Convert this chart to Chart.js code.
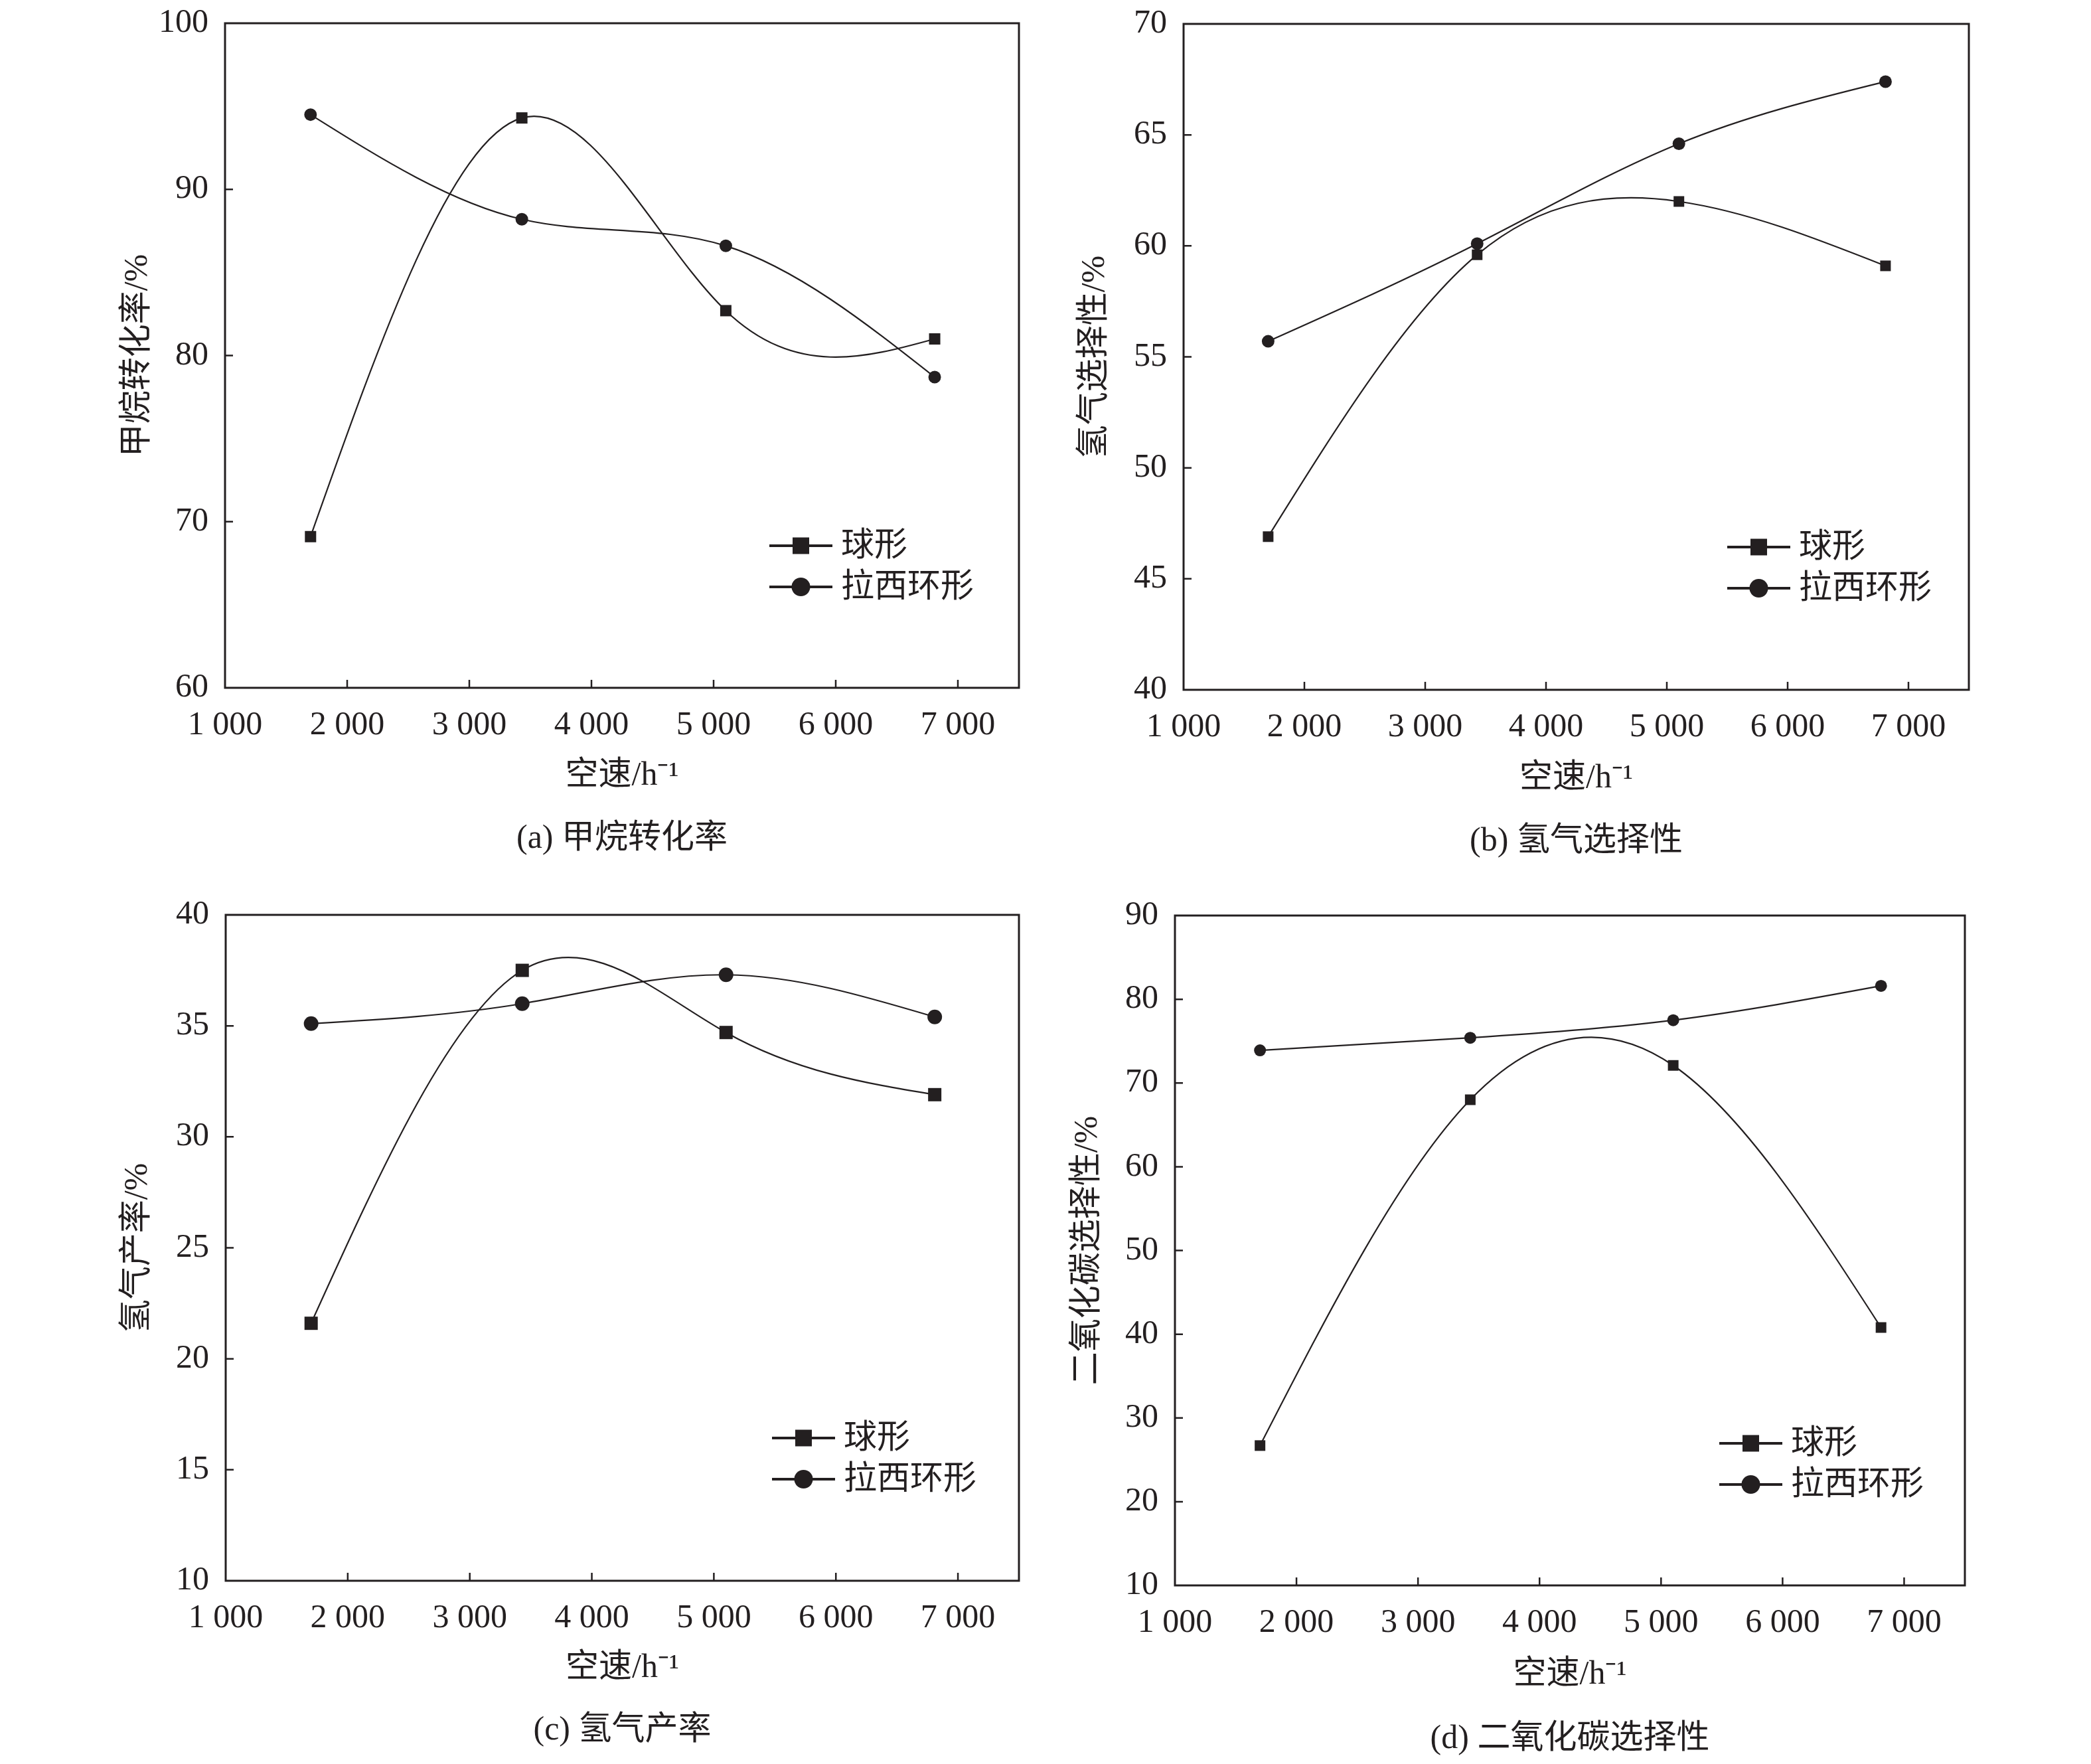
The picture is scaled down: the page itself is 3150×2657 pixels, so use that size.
<!DOCTYPE html>
<html>
<head>
<meta charset="utf-8">
<title>空速对催化性能的影响</title>
<script src="https://cdn.jsdelivr.net/npm/chart.js@4.4.1/dist/chart.umd.min.js"></script>
<style>
  body { margin: 0; background: #fff; }
  #wrap { position: relative; width: 3150px; height: 2657px; }
  canvas { position: absolute; }
</style>
</head>
<body>
<div id="wrap">
  <canvas id="chartA" width="1575" height="1328" style="left:0;top:0"></canvas>
  <canvas id="chartB" width="1575" height="1328" style="left:1575px;top:0"></canvas>
  <canvas id="chartC" width="1575" height="1329" style="left:0;top:1328px"></canvas>
  <canvas id="chartD" width="1575" height="1329" style="left:1575px;top:1328px"></canvas>
</div>
<script>
// space velocity (h^-1) of the four runs
const spaceVelocity = [1700, 3430, 5100, 6810];
const xTicks = [1000, 2000, 3000, 4000, 5000, 6000, 7000];
const seriesNames = ['球形', '拉西环形'];

// (a) methane conversion, %
const methaneSphere = [69.1, 94.3, 82.7, 81.0];
const methaneRaschig = [94.5, 88.2, 86.6, 78.7];
const yTicksA = [60, 70, 80, 90, 100];

// (b) hydrogen selectivity, %
const h2SelSphere = [46.9, 59.6, 62.0, 59.1];
const h2SelRaschig = [55.7, 60.1, 64.6, 67.4];
const yTicksB = [40, 45, 50, 55, 60, 65, 70];

// (c) hydrogen yield, %
const h2YieldSphere = [21.6, 37.5, 34.7, 31.9];
const h2YieldRaschig = [35.1, 36.0, 37.3, 35.4];
const yTicksC = [10, 15, 20, 25, 30, 35, 40];

// (d) CO2 selectivity, %
const co2SelSphere = [26.7, 68.0, 72.1, 40.8];
const co2SelRaschig = [73.9, 75.4, 77.5, 81.6];
const yTicksD = [10, 20, 30, 40, 50, 60, 70, 80, 90];

const ink = '#231f20';
const fontFamily = '"Liberation Serif", "Noto Sans CJK SC", serif';
const fontSize = 50;

function thousands(v) {
  return String(v).replace(/\B(?=(\d{3})+(?!\d))/g, ' ');
}

// replace chart.js bezier handles with natural cubic spline ones (like the origin plot)
const naturalSplinePlugin = {
  id: 'naturalSpline',
  beforeDatasetDraw(chart, args) {
    const meta = args.meta;
    const pts = meta.data;
    const n = pts.length;
    if (n < 3) return;
    const xs = pts.map(p => p.x);
    const ys = pts.map(p => p.y);
    const h = [];
    for (let i = 0; i < n - 1; i++) h.push(xs[i + 1] - xs[i]);
    const M = new Array(n).fill(0);
    const cp = [], dp = [];
    for (let i = 1; i < n - 1; i++) {
      const a = h[i - 1], b = 2 * (h[i - 1] + h[i]), c = h[i];
      const d = 6 * ((ys[i + 1] - ys[i]) / h[i] - (ys[i] - ys[i - 1]) / h[i - 1]);
      const m = b - (i > 1 ? a * cp[i - 1] : 0);
      cp[i] = c / m;
      dp[i] = (d - (i > 1 ? a * dp[i - 1] : 0)) / m;
    }
    for (let i = n - 2; i >= 1; i--) {
      M[i] = dp[i] - (i < n - 2 ? cp[i] * M[i + 1] : 0);
    }
    for (let i = 0; i < n - 1; i++) {
      const s = (ys[i + 1] - ys[i]) / h[i];
      const d0 = s - h[i] * (2 * M[i] + M[i + 1]) / 6;
      const d1 = s + h[i] * (M[i] + 2 * M[i + 1]) / 6;
      pts[i].cp2x = xs[i] + h[i] / 3;
      pts[i].cp2y = ys[i] + d0 * h[i] / 3;
      pts[i + 1].cp1x = xs[i + 1] - h[i] / 3;
      pts[i + 1].cp1y = ys[i + 1] - d1 * h[i] / 3;
    }
    pts[0].cp1x = xs[0]; pts[0].cp1y = ys[0];
    pts[n - 1].cp2x = xs[n - 1]; pts[n - 1].cp2y = ys[n - 1];
    meta.dataset._pointsUpdated = true;
  }
};

// box + inward tick marks
const framePlugin = {
  id: 'frame',
  beforeDatasetsDraw(chart) {
    const { ctx, chartArea: a, scales } = chart;
    ctx.save();
    ctx.strokeStyle = ink;
    ctx.lineWidth = 3;
    ctx.strokeRect(a.left, a.top, a.right - a.left, a.bottom - a.top);
    ctx.lineWidth = 2.5;
    ctx.beginPath();
    scales.x.ticks.forEach(t => {
      const px = scales.x.getPixelForValue(t.value);
      if (px > a.left + 3 && px < a.right - 3) {
        ctx.moveTo(px, a.bottom);
        ctx.lineTo(px, a.bottom - 12);
      }
    });
    scales.y.ticks.forEach(t => {
      const py = scales.y.getPixelForValue(t.value);
      if (py > a.top + 3 && py < a.bottom - 3) {
        ctx.moveTo(a.left, py);
        ctx.lineTo(a.left + 12, py);
      }
    });
    ctx.stroke();
    ctx.restore();
  }
};

// legend: short line with the marker on it, then the name
const lineLegendPlugin = {
  id: 'lineLegend',
  afterDatasetsDraw(chart, args, opts) {
    const { ctx, chartArea: a } = chart;
    const x0 = a.right + opts.dx;
    ctx.save();
    chart.data.datasets.forEach((ds, i) => {
      const y = a.top + opts.dy + i * 62;
      ctx.strokeStyle = ink;
      ctx.fillStyle = ink;
      ctx.lineWidth = 4;
      ctx.beginPath();
      ctx.moveTo(x0, y);
      ctx.lineTo(x0 + 95, y);
      ctx.stroke();
      ctx.beginPath();
      if (ds.pointStyle === 'rect') {
        ctx.rect(x0 + 47.5 - 12.5, y - 12.5, 25, 25);
      } else {
        ctx.arc(x0 + 47.5, y, 14, 0, Math.PI * 2);
      }
      ctx.fill();
      ctx.font = fontSize + 'px ' + fontFamily;
      ctx.textAlign = 'left';
      ctx.textBaseline = 'middle';
      ctx.fillText(ds.label, x0 + 108, y + 2);
    });
    ctx.restore();
  }
};

function makePanel(id, p) {
  const H = document.getElementById(id).height;
  const W = document.getElementById(id).width;
  const captionTop = p.bottom + p.captionOff - fontSize * 0.6;
  const captionPadBottom = H - captionTop - fontSize * 1.2;
  const xAxisHeight = captionTop - p.bottom;
  const xTitlePadBottom = xAxisHeight - p.xTitleOff - fontSize * 0.6;

  const mk = (vals) => spaceVelocity.map((x, i) => ({ x: x, y: vals[i] }));

  new Chart(document.getElementById(id), {
    type: 'line',
    data: {
      datasets: [{
        label: seriesNames[0],
        data: mk(p.sphere),
        borderColor: ink,
        backgroundColor: ink,
        borderWidth: 2.2,
        pointStyle: 'rect',
        pointRadius: p.sq / Math.SQRT2,
        pointBorderWidth: 0,
        tension: 0.4
      }, {
        label: seriesNames[1],
        data: mk(p.raschig),
        borderColor: ink,
        backgroundColor: ink,
        borderWidth: 2.2,
        pointStyle: 'circle',
        pointRadius: p.dot,
        pointBorderWidth: 0,
        tension: 0.4
      }]
    },
    options: {
      responsive: false,
      devicePixelRatio: 1,
      animation: false,
      events: [],
      layout: { padding: { left: 0, top: p.top, right: W - p.right, bottom: 0 } },
      scales: {
        x: {
          type: 'linear',
          min: 1000,
          max: 7500,
          grid: { display: false },
          border: { display: false },
          afterBuildTicks: s => { s.ticks = xTicks.map(v => ({ value: v })); },
          afterFit: s => { s.height = xAxisHeight; s.paddingLeft = 0; s.paddingRight = 0; },
          ticks: {
            color: ink,
            padding: 19,
            maxRotation: 0,
            autoSkip: false,
            font: { family: fontFamily, size: fontSize },
            callback: v => thousands(v)
          },
          title: {
            display: true,
            text: '空速/h⁻¹',
            color: ink,
            font: { family: fontFamily, size: fontSize, lineHeight: 1.2 },
            padding: { top: 0, bottom: xTitlePadBottom }
          }
        },
        y: {
          min: p.yTicks[0],
          max: p.yTicks[p.yTicks.length - 1],
          grid: { display: false },
          border: { display: false },
          afterBuildTicks: s => { s.ticks = p.yTicks.map(v => ({ value: v })); },
          afterFit: s => { s.width = p.left; s.paddingTop = 0; s.paddingBottom = 0; },
          ticks: {
            color: ink,
            padding: 17,
            autoSkip: false,
            font: { family: fontFamily, size: fontSize }
          },
          title: {
            display: true,
            text: p.yTitle,
            color: ink,
            font: { family: fontFamily, size: fontSize, lineHeight: 1.2 },
            padding: { top: p.yTitleX - fontSize * 0.6, bottom: 0 }
          }
        }
      },
      plugins: {
        legend: { display: false },
        tooltip: { enabled: false },
        title: {
          display: true,
          text: p.caption,
          position: 'bottom',
          fullSize: false,
          color: ink,
          font: { family: fontFamily, size: fontSize, weight: 'normal', lineHeight: 1.2 },
          padding: { top: 0, bottom: captionPadBottom }
        },
        lineLegend: { dx: p.legendDx, dy: p.legendDy }
      }
    },
    plugins: [naturalSplinePlugin, framePlugin, lineLegendPlugin]
  });
}

makePanel('chartA', {
  left: 339, top: 35, right: 1535, bottom: 1036,
  yTicks: yTicksA, sphere: methaneSphere, raschig: methaneRaschig,
  yTitle: '甲烷转化率/%', caption: '(a) 甲烷转化率', yTitleX: 208,
  xTitleOff: 133, captionOff: 228, legendDx: -376, legendDy: 787, sq: 17, dot: 9.5
});
makePanel('chartB', {
  left: 208, top: 36, right: 1391, bottom: 1039,
  yTicks: yTicksB, sphere: h2SelSphere, raschig: h2SelRaschig,
  yTitle: '氢气选择性/%', caption: '(b) 氢气选择性', yTitleX: 75,
  xTitleOff: 134, captionOff: 229, legendDx: -364, legendDy: 788, sq: 16, dot: 9.5
});
makePanel('chartC', {
  left: 340, top: 50, right: 1535, bottom: 1053,
  yTicks: yTicksC, sphere: h2YieldSphere, raschig: h2YieldRaschig,
  yTitle: '氢气产率/%', caption: '(c) 氢气产率', yTitleX: 208,
  xTitleOff: 132, captionOff: 226, legendDx: -372, legendDy: 788, sq: 20, dot: 11
});
makePanel('chartD', {
  left: 195, top: 51, right: 1385, bottom: 1060,
  yTicks: yTicksD, sphere: co2SelSphere, raschig: co2SelRaschig,
  yTitle: '二氧化碳选择性/%', caption: '(d) 二氧化碳选择性', yTitleX: 64,
  xTitleOff: 135, captionOff: 232, legendDx: -370, legendDy: 795, sq: 16, dot: 9
});
</script>
</body>
</html>
